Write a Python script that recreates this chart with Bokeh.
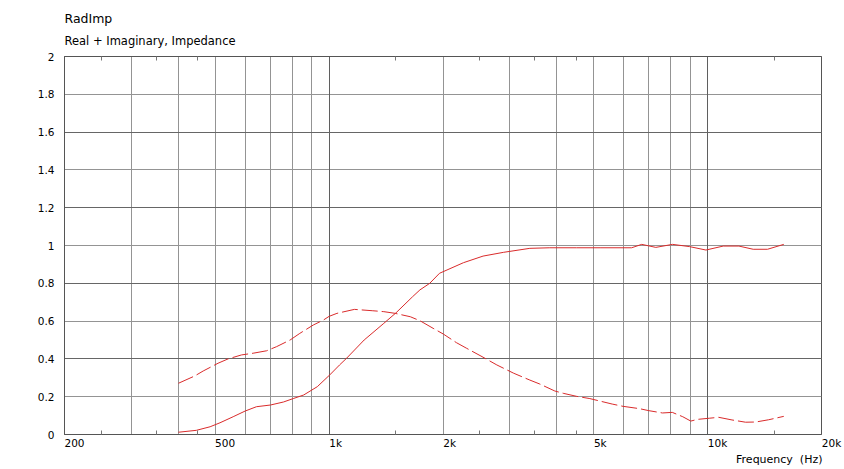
from bokeh.plotting import figure
from bokeh.models import (FixedTicker, Grid, Title, LogAxis)
from bokeh.embed import file_html
from bokeh.resources import INLINE

# ---- data ----
freq_real = [400, 446, 485, 515, 558, 600, 643, 700, 758, 804, 857, 931, 1004, 1066, 1112,
             1238, 1395, 1503, 1662, 1738, 1845, 1958, 2265, 2552, 2893, 3392, 3830, 4500,
             5200, 6300, 6700, 7300, 8080, 8970, 9900, 11000, 12100, 13200, 14400, 15900]
real = [0.012, 0.022, 0.041, 0.062, 0.094, 0.124, 0.147, 0.156, 0.172, 0.19, 0.209, 0.253,
        0.315, 0.368, 0.403, 0.5, 0.588, 0.644, 0.729, 0.765, 0.80, 0.853, 0.909, 0.944,
        0.964, 0.985, 0.988, 0.988, 0.988, 0.988, 1.006, 0.99, 1.006, 0.994, 0.976, 0.997,
        0.997, 0.98, 0.98, 1.006]

freq_imag = [400, 442, 465, 509, 541, 587, 630, 684, 727, 789, 837, 908, 967, 1000, 1049,
             1167, 1300, 1395, 1495, 1640, 1738, 1883, 2002, 2170, 2310, 2536, 2775, 3076,
             3392, 3604, 3950, 4156, 4505, 4887, 5192, 5600, 5980, 6600, 7000, 7600, 8070,
             8600, 9030, 9400, 10100, 10700, 11600, 12600, 13400, 14500, 15900]
imag = [0.271, 0.31, 0.336, 0.377, 0.4, 0.421, 0.43, 0.443, 0.465, 0.5, 0.535, 0.579, 0.606,
        0.625, 0.641, 0.662, 0.655, 0.65, 0.641, 0.623, 0.602, 0.562, 0.532, 0.486, 0.456,
        0.412, 0.368, 0.324, 0.288, 0.267, 0.23, 0.218, 0.202, 0.19, 0.177, 0.161, 0.149,
        0.137, 0.126, 0.114, 0.117, 0.094, 0.071, 0.08, 0.086, 0.091, 0.077, 0.065, 0.066,
        0.078, 0.096]

x_label_ticks = [200, 500, 1000, 2000, 5000, 10000, 20000]
x_label_texts = ["200", "500", "1k", "2k", "5k", "10k", "20k"]
x_minor_ticks = [250, 350, 450, 1500, 2500, 3500, 4500, 15000]
x_grid_light = [300, 400, 500, 600, 700, 800, 900, 2000, 3000, 4000, 5000, 6000, 7000, 8000, 9000]
x_grid_dark = [1000, 10000]

y_ticks = [0, 0.2, 0.4, 0.6, 0.8, 1.0, 1.2, 1.4, 1.6, 1.8, 2.0]
y_labels = ["0", "0.2", "0.4", "0.6", "0.8", "1", "1.2", "1.4", "1.6", "1.8", "2"]
y_grid_dark = [0.4, 0.8, 1.2, 1.6]

FONT = "DejaVu Sans"
RED = "#d92b2b"
NBSP = "\u00a0"

p = figure(x_axis_type="log", x_range=(200, 20000), y_range=(0, 2),
           frame_width=757, frame_height=378,
           min_border_left=64, min_border_right=22, min_border_top=56, min_border_bottom=34,
           output_backend="svg", toolbar_location=None,
           background_fill_color="white", border_fill_color="white")
p.title.visible = False

# top axis (ticks only), nearest the frame
top = LogAxis(ticker=FixedTicker(ticks=x_label_ticks, minor_ticks=x_minor_ticks),
              major_label_overrides={t: "" for t in x_label_ticks},
              major_tick_in=0, major_tick_out=0, minor_tick_in=4, minor_tick_out=0,
              minor_tick_line_color="#777777", axis_line_color="#555555",
              major_label_text_font_size="1px", major_label_standoff=0)
p.add_layout(top, "above")

# titles
sub = Title(text="Real + Imaginary, Impedance", text_font=FONT, text_font_size="11.5px",
            text_font_style="normal", text_color="#000000", align="left", standoff=17)
main = Title(text="RadImp", text_font=FONT, text_font_size="12.5px",
             text_font_style="normal", text_color="#000000", align="left", standoff=-4)
p.add_layout(sub, "above")
p.add_layout(main, "above")

# bottom x axis; labels padded on the left so they sit left-aligned at the tick
xa = p.below[0]
xa.ticker = FixedTicker(ticks=x_label_ticks, minor_ticks=x_minor_ticks)
xa.major_label_overrides = {t: NBSP * (2 * len(s)) + s for t, s in zip(x_label_ticks, x_label_texts)}
xa.major_tick_in = 0
xa.major_tick_out = 0
xa.minor_tick_in = 4
xa.minor_tick_out = 0
xa.minor_tick_line_color = "#777777"
xa.axis_line_color = "#555555"
xa.major_label_text_font = FONT
xa.major_label_text_font_size = "10.5px"
xa.major_label_text_color = "#000000"
xa.major_label_standoff = 2

p.add_layout(Title(text="Frequency " + NBSP + "(Hz)", text_font=FONT, text_font_size="11px",
                   text_font_style="normal", text_color="#000000", align="right",
                   standoff=-2, offset=-1), "below")

# y axis
ya = p.yaxis[0]
ya.ticker = FixedTicker(ticks=y_ticks)
ya.major_label_overrides = {t: l for t, l in zip(y_ticks, y_labels)}
ya.major_tick_in = 0
ya.major_tick_out = 0
ya.minor_tick_in = 0
ya.minor_tick_out = 0
ya.major_label_standoff = 10
ya.axis_line_color = "#555555"
ya.major_label_text_font = FONT
ya.major_label_text_font_size = "10.5px"
ya.major_label_text_color = "#000000"

# grids
p.xgrid.ticker = FixedTicker(ticks=x_grid_light)
p.xgrid.grid_line_color = "#949494"
p.ygrid.ticker = FixedTicker(ticks=y_ticks)
p.ygrid.grid_line_color = "#949494"
p.add_layout(Grid(dimension=0, ticker=FixedTicker(ticks=x_grid_dark), grid_line_color="#5f5f5f"))
p.add_layout(Grid(dimension=1, ticker=FixedTicker(ticks=y_grid_dark), grid_line_color="#666666"))

p.outline_line_color = "#555555"
p.outline_line_width = 1

# curves
p.line(freq_real, real, line_color=RED, line_width=1)
p.line(freq_imag, imag, line_color=RED, line_width=1, line_dash="16 4")

open("out.html", "w").write(file_html(p, INLINE))
